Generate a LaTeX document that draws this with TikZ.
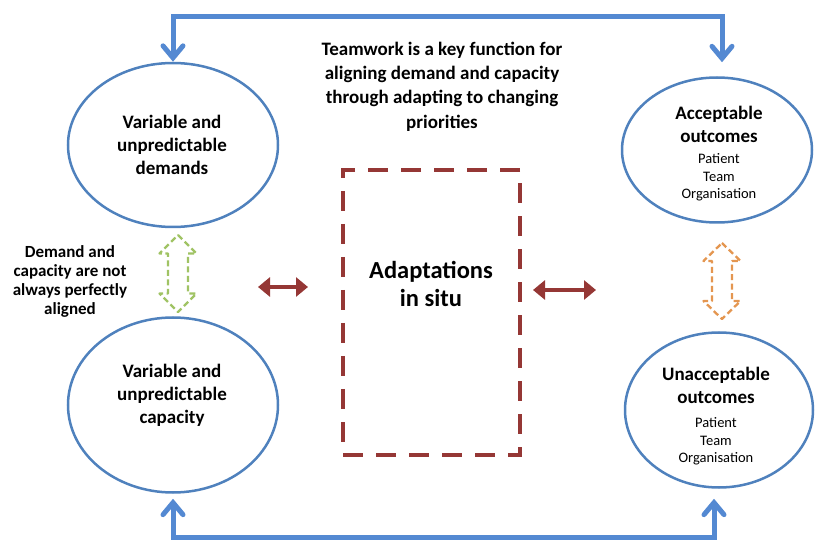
\documentclass[tikz,border=0pt]{standalone}
\usepackage{fontspec}
\setmainfont{Carlito}
\usetikzlibrary{arrows.meta,shapes.geometric}
\definecolor{ellblue}{RGB}{79,129,189}
\definecolor{arrblue}{RGB}{84,137,210}
\definecolor{darkred}{RGB}{149,55,53}
\definecolor{lgreen}{RGB}{160,195,100}
\definecolor{lorange}{RGB}{228,150,80}
\begin{document}
\begin{tikzpicture}[x=1pt,y=-1pt,
  ell/.style={draw=ellblue,line width=2.5pt,ellipse,inner sep=0pt},
  bigtxt/.style={font=\bfseries\fontsize{19}{23}\selectfont,align=center,inner sep=0pt},
  smalltxt/.style={font=\fontsize{14.5}{17.5}\selectfont,align=center,inner sep=0pt},
  loopline/.style={draw=arrblue,line width=5pt,line join=miter,
    {Straight Barb[length=12pt,width=20pt,line cap=round]}-{Straight Barb[length=12pt,width=20pt,line cap=round]}},
  redarr/.style={draw=darkred,line width=4.5pt,{Triangle[length=12pt,width=19pt]}-{Triangle[length=12pt,width=19pt]}},
  hollow/.style={line width=2.3pt,dash pattern=on 6pt off 3.5pt,fill=white,line join=round},
  adaptbox/.style={draw=darkred,line width=4.5pt,dash pattern=on 20pt off 13pt,rectangle,inner sep=0pt}
]
\useasboundingbox (0,0) rectangle (815,540);

% ellipses
\node[ell,minimum width=210pt,minimum height=164pt] (dem) at (173,145) {};
\node[ell,minimum width=210pt,minimum height=175pt] (cap) at (173,405) {};
\node[ell,minimum width=190pt,minimum height=145pt] (acc) at (717,150) {};
\node[ell,minimum width=188pt,minimum height=155pt] (unacc) at (719,410) {};

% texts in ellipses
\node[bigtxt] (demt) at (172,145) {Variable and\\unpredictable\\demands};
\node[bigtxt] (capt) at (172,395) {Variable and\\unpredictable\\capacity};
\node[bigtxt] (acct) at (719,124.5) {Acceptable\\outcomes};
\node[smalltxt] (accs) at (719,177.5) {Patient\\Team\\Organisation};
\node[bigtxt] (unacct) at (716,385) {Unacceptable\\outcomes};
\node[smalltxt] (unaccs) at (716,441.5) {Patient\\Team\\Organisation};

% central box
\node[adaptbox,minimum width=177pt,minimum height=285pt] (adapt) at (431.5,312.5) {};
\node[font=\bfseries\fontsize{24.5}{28}\selectfont,align=center,inner sep=0pt] (adaptt) at (431,284) {Adaptations\\in situ};

% top text
\node[font=\bfseries\fontsize{19}{24.3}\selectfont,align=center,inner sep=0pt] (team) at (442,86.5)
  {Teamwork is a key function for\\aligning demand and capacity\\through adapting to changing\\priorities};

% side text
\node[font=\bfseries\fontsize{17}{19}\selectfont,align=center,inner sep=0pt] (misal) at (70,281.5)
  {Demand and\\capacity are not\\always perfectly\\aligned};

% loop connectors
\coordinate (tl) at (173,17);
\coordinate (tr) at (722,17);
\coordinate (bl) at (173,537);
\coordinate (br) at (714,537);
\draw[loopline,shorten >=14pt] (dem.north) -- (tl) -- (tr) -- (tr |- acc.north);
\draw[loopline,shorten <=5pt,shorten >=10pt] (cap.south) -- (bl) -- (br) -- (br |- unacc.south);

% red double arrows
\coordinate (r1a) at (258,287);
\coordinate (r1b) at (308,287);
\coordinate (r2a) at (533,290);
\coordinate (r2b) at (596,290);
\draw[redarr] (r1a) -- (r1b);
\draw[redarr] (r2a) -- (r2b);

% hollow dashed double arrows
\draw[hollow,draw=lgreen,shift={(178,273.5)}]
  (0,-38.5) -- (18.5,-20) -- (10,-20) -- (10,20) -- (18.5,20) -- (0,38.5)
  -- (-18.5,20) -- (-10,20) -- (-10,-20) -- (-18.5,-20) -- cycle;
\draw[hollow,draw=lorange,shift={(722,281)}]
  (0,-38) -- (18.5,-20) -- (10,-20) -- (10,20) -- (18.5,20) -- (0,38)
  -- (-18.5,20) -- (-10,20) -- (-10,-20) -- (-18.5,-20) -- cycle;
\end{tikzpicture}
\end{document}
